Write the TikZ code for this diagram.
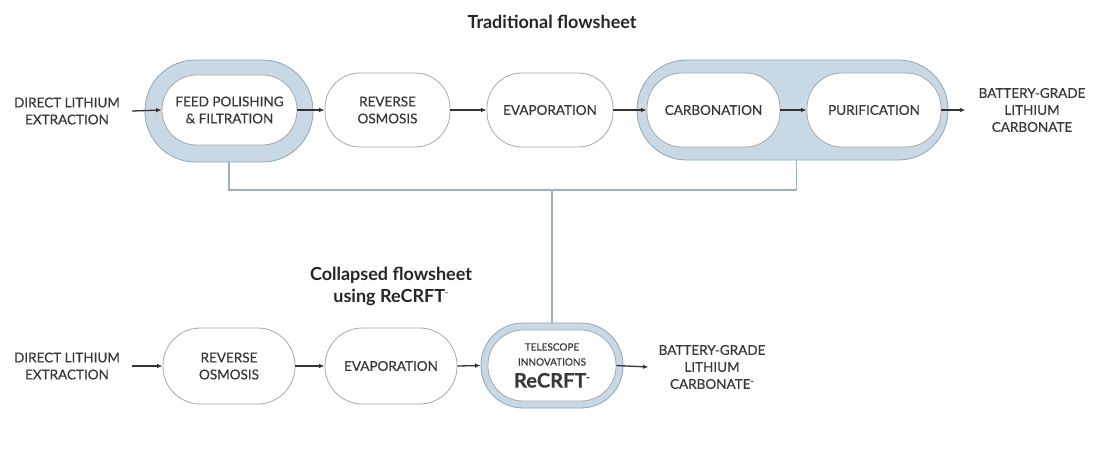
\documentclass[tikz,border=0pt]{standalone}
\usepackage{fontspec}
\setmainfont{Lato}
\newfontfamily\lblfont[FakeBold=0.4]{Lato}
\usetikzlibrary{arrows.meta,calc}
\definecolor{band}{HTML}{C8D8E4}
\definecolor{bandline}{HTML}{8FA6B6}
\definecolor{capline}{HTML}{A8A8A8}
\definecolor{txt}{HTML}{383838}
\definecolor{conncol}{HTML}{9CB0BE}
\begin{document}
\begin{tikzpicture}[x=1pt,y=-1pt,
  lbl/.style={font=\lblfont\fontsize{13.5}{17}\selectfont, text=txt, align=center, inner sep=0pt},
  inbox/.style={draw=capline, line width=0.8pt, fill=white, rounded corners=35pt,
    minimum width=130pt, minimum height=74pt, inner sep=0pt, lbl},
  outbox/.style={draw=bandline, line width=0.8pt, fill=band, inner sep=0pt},
  arr/.style={-{Latex[length=5.5pt,width=4.5pt]}, line width=1.3pt, draw=black!80},
  connline/.style={draw=conncol, line width=1.2pt},
  ttl/.style={font=\bfseries\fontsize{18}{22}\selectfont, text=black!85, align=center, inner sep=0pt}]
\path[use as bounding box, fill=white] (0,0) rectangle (1093,475);

% ---------- Traditional flowsheet ----------
\node[ttl] (t1) at (552,22) {Traditional flowsheet};

\node[outbox, minimum width=168pt, minimum height=102pt, rounded corners=50.5pt] (fpout) at (229,111) {};
\node[outbox, minimum width=311pt, minimum height=100pt, rounded corners=49.5pt] (cpout) at (792.5,110) {};

\node[lbl] (dle1) at (67,111) {DIRECT LITHIUM\\EXTRACTION};
\node[inbox, minimum width=135pt, minimum height=70pt, rounded corners=34.5pt] (fp) at (229.5,110) {FEED POLISHING\\\& FILTRATION};
\node[inbox, minimum width=125pt] (ro) at (387.5,110) {REVERSE\\OSMOSIS};
\node[inbox, minimum width=126pt] (ev) at (550,110) {EVAPORATION};
\node[inbox, minimum width=133pt] (ca) at (713.5,110) {CARBONATION};
\node[inbox, minimum width=134pt] (pu) at (874,110) {PURIFICATION};
\node[lbl] (bg1) at (1032,110) {BATTERY-GRADE\\LITHIUM\\CARBONATE};

\draw[arr] ([xshift=12pt]dle1.east) -- (fp.west);
\draw[arr] (fp.east) -- (ro.west);
\draw[arr] (ro.east) -- (ev.west);
\draw[arr] (ev.east) -- (ca.west);
\draw[arr] (ca.east) -- (pu.west);
\draw[arr] (pu.east) -- ([xshift=-13pt]bg1.west);

% ---------- connectors ----------
\coordinate (j) at (552,190);
\draw[connline] (fpout.south) |- (j) -| ([xshift=4pt]cpout.south);

% ---------- Collapsed flowsheet ----------
\node[ttl] (t2) at (391,286) {Collapsed flowsheet\\using ReCRFT\textsuperscript{\fontsize{4}{4}\selectfont ™}};

\node[lbl] (dle2) at (67,366) {DIRECT LITHIUM\\EXTRACTION};
\node[inbox, minimum width=132pt, minimum height=76pt, rounded corners=37.5pt] (ro2) at (229,366) {REVERSE\\OSMOSIS};
\node[inbox, minimum width=132pt, minimum height=76pt, rounded corners=37.5pt] (ev2) at (391,366) {EVAPORATION};
\node[outbox, minimum width=142pt, minimum height=85pt, rounded corners=42pt] (rcout) at (552,365.5) {};
\node[inbox, minimum width=128pt, minimum height=71pt, rounded corners=35pt, font=\lblfont\fontsize{10}{15}\selectfont] (rc) at (552,365.5)
  {TELESCOPE\\INNOVATIONS\\[7pt]{\bfseries\fontsize{20}{20}\selectfont ReCRFT\textsuperscript{\fontsize{4}{4}\selectfont ™}}};
\node[lbl] (bg2) at (712,367) {BATTERY-GRADE\\LITHIUM\\CARBONATE\textsuperscript{\fontsize{4}{4}\selectfont ™}};

\draw[connline] (j) -- (rcout.north);

\draw[arr] ([xshift=12pt]dle2.east) -- (ro2.west);
\draw[arr] (ro2.east) -- (ev2.west);
\draw[arr] (ev2.east) -- (rcout.west);
\draw[arr] (rc.east) -- ([xshift=-10pt]bg2.west);
\end{tikzpicture}
\end{document}
